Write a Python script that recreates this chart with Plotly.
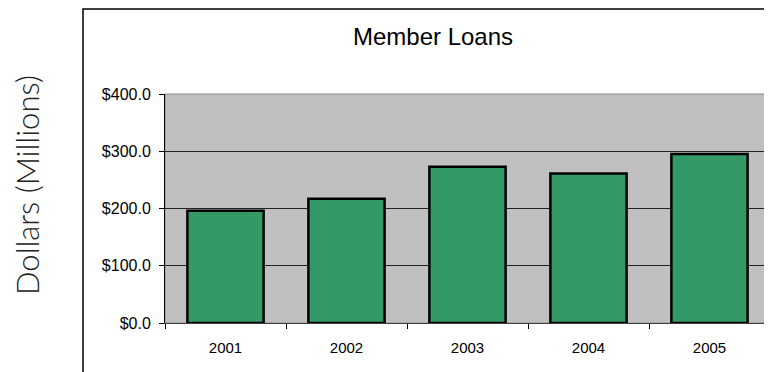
import plotly.graph_objects as go

years = ["2001", "2002", "2003", "2004", "2005"]
loans = [196, 217, 273, 261, 295]
y_ticks = [0, 100, 200, 300, 400]

# page body has an 8px margin, so the figure is laid out in page coords minus 8
OFF = 8
W, H = 772 - OFF, 372 - OFF
L, R, T, B = 165 - OFF, 2, 94 - OFF, 49
pw, ph = W - L - R, H - T - B

def px_x(p):
    return (p - OFF - L) / pw

def px_y(p):
    return (H - B - (p - OFF)) / ph

fig = go.Figure(go.Bar(
    x=years, y=loans,
    marker=dict(color="#339966", line=dict(color="#000000", width=2.5)),
    width=0.63,
))

fig.update_layout(
    width=W, height=H,
    margin=dict(l=L, r=R, t=T, b=B),
    paper_bgcolor="white",
    plot_bgcolor="#C0C0C0",
    showlegend=False,
    title=dict(text="Member Loans", font=dict(family="Liberation Sans, Arial", size=24, color="black"),
               xref="paper", x=px_x(433), xanchor="center",
               yref="container", y=1 - (37 - OFF) / H, yanchor="middle"),
    font=dict(family="Liberation Sans, Arial", color="black"),
)

fig.update_xaxes(
    type="category", tickson="boundaries", ticks="outside", ticklen=5, tickcolor="#000",
    showline=True, linecolor="#404040", linewidth=1, showgrid=False,
    tickfont=dict(size=15), ticklabelstandoff=11,
)
fig.update_yaxes(
    range=[0, 400], tickvals=y_ticks, tickformat="$,.1f",
    ticks="outside", ticklen=5, tickcolor="#000",
    showline=True, linecolor="#000", linewidth=1,
    showgrid=True, gridcolor="#222222", gridwidth=1, zeroline=False,
    tickfont=dict(size=16), ticklabelstandoff=5,
)

# plot area border (top/right), grey
fig.add_shape(type="rect", xref="paper", yref="paper", x0=0, x1=1, y0=0, y1=1,
              line=dict(color="#8c8c8c", width=1), layer="below", fillcolor="rgba(0,0,0,0)")
# outer chart frame
fig.add_shape(type="rect", xref="paper", yref="paper",
              x0=px_x(83), x1=px_x(790), y0=px_y(390), y1=px_y(9),
              line=dict(color="#000", width=1.5), fillcolor="rgba(0,0,0,0)")

fig.add_annotation(text="Dollars (Millions)", textangle=-90, showarrow=False,
                   xref="paper", yref="paper", x=px_x(27), y=px_y(185),
                   xanchor="center", yanchor="middle",
                   font=dict(family="Lato", size=31, weight=300, color="#222"))

fig.write_html("out.html")
